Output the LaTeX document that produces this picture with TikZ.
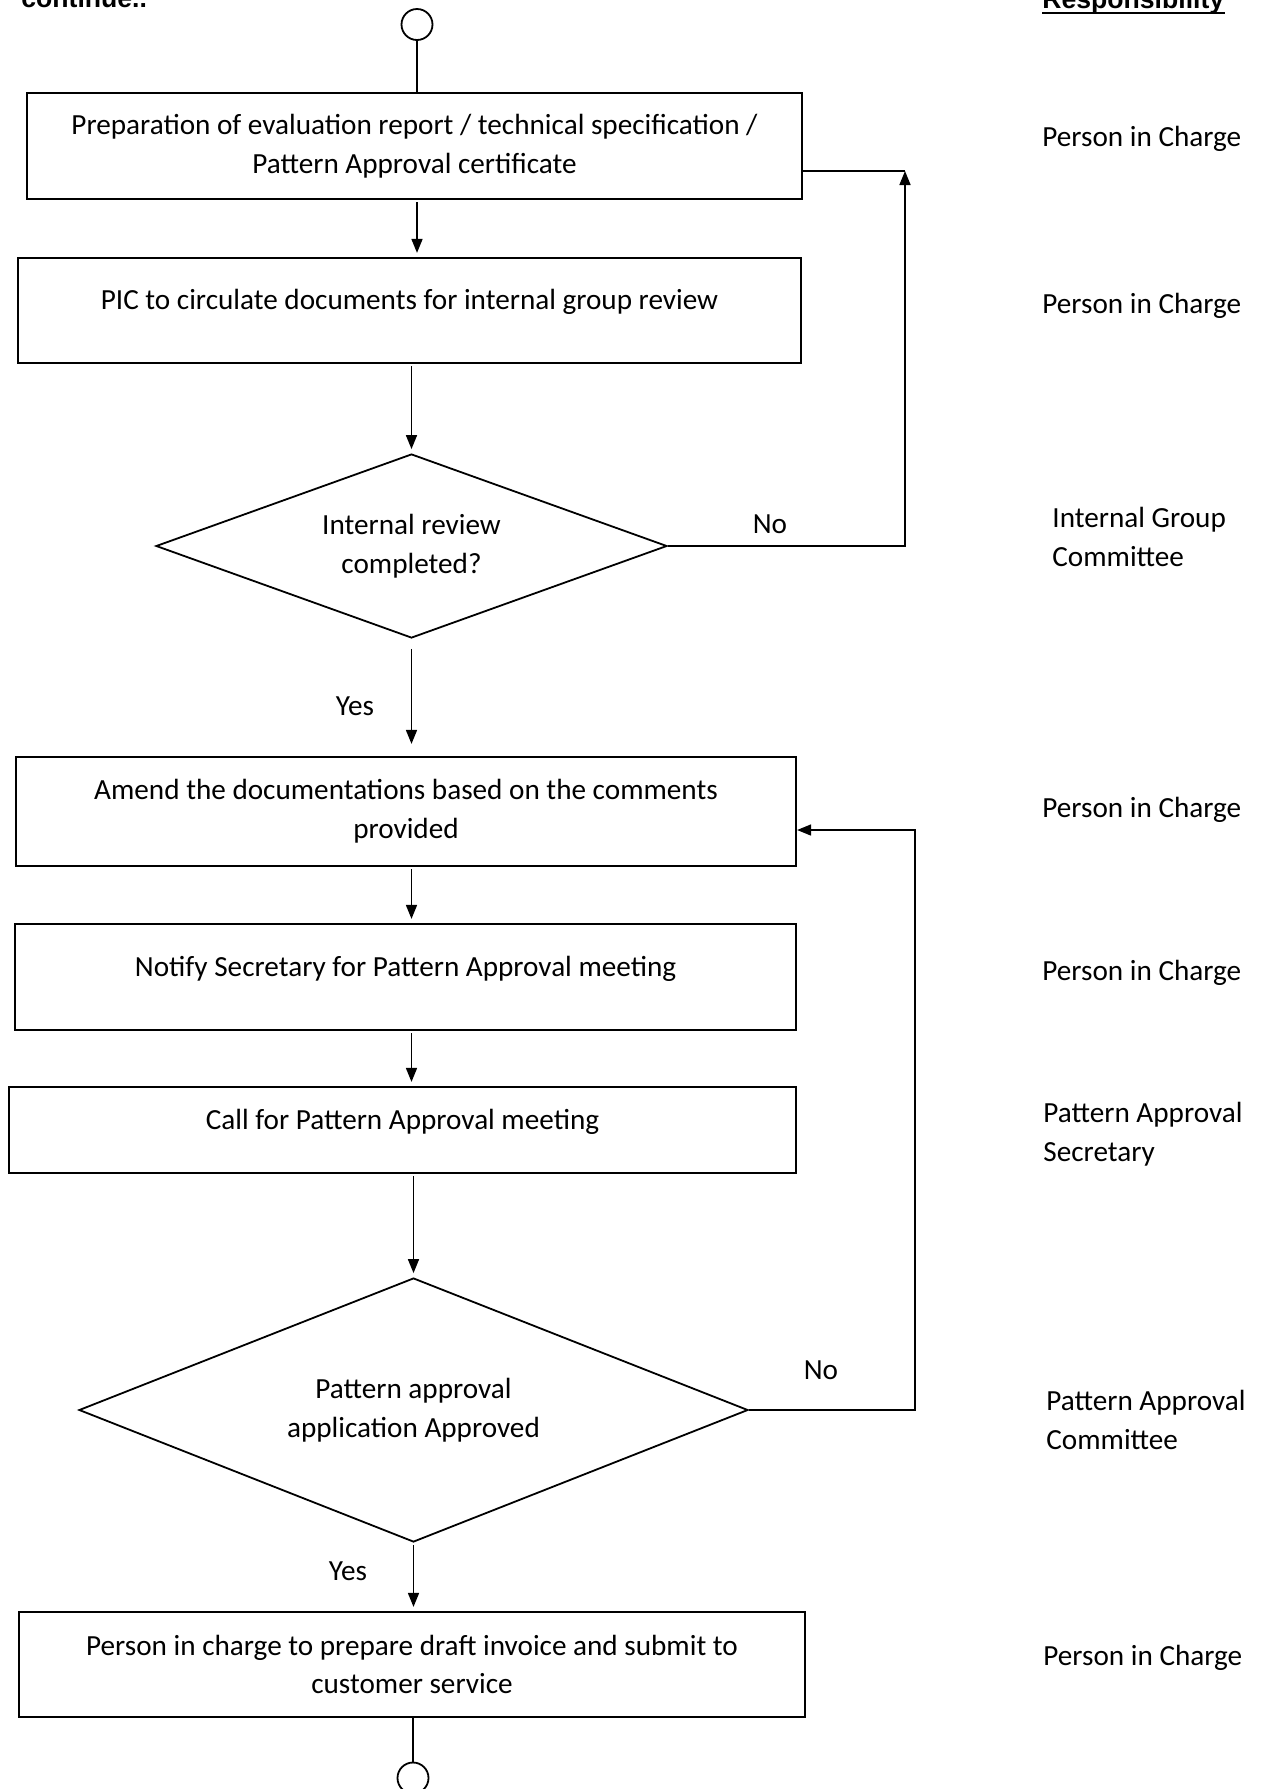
\documentclass[tikz,border=0pt]{standalone}
\usepackage{fontspec}
\setmainfont{Carlito}
\newfontfamily\headfont{Liberation Sans}
\usetikzlibrary{arrows.meta,positioning,shapes.geometric}

\begin{document}
\begin{tikzpicture}[
  x=0.5pt, y=-0.5pt,
  font=\fontsize{14.6}{19.4}\selectfont,
  >={Triangle[length=7pt,width=5.5pt]},
  stepbox/.style={draw, line width=1.1pt, align=center, inner sep=0pt},
  onebox/.style={stepbox, text height=11pt, text depth=12pt},
  decision/.style={draw, diamond, shape aspect=2.6, line width=0.9pt, align=center, inner sep=0pt},
  term/.style={draw, circle, line width=0.9pt, minimum size=15.5pt, inner sep=0pt},
  who/.style={anchor=west, align=left, inner sep=0pt},
  head/.style={font=\headfont\bfseries\fontsize{13.3}{16}\selectfont, inner sep=0pt, anchor=base west},
  link/.style={line width=0.8pt},
  arr/.style={link, ->},
  flow/.style={arr, shorten <=1pt, shorten >=2pt}
]
\useasboundingbox (0,0) rectangle (1264,1789);

% heading (cut at the top of the page)
\node[head] (cont) at (21,7) {continue..};
\node[head] (resp) at (1042,8) {Responsibility};
\draw[line width=1pt] ([yshift=-2.5pt]resp.base west) -- ([yshift=-2.5pt]resp.base east);

% flow
\node[term] (st) at (417,24.5) {};
\node[stepbox, minimum width=387.5pt, minimum height=53pt] (b1) at (414.5,146)
  {Preparation of evaluation report / technical specification /\\ Pattern Approval certificate};
\node[onebox, minimum width=391.5pt, minimum height=52.5pt] (b2) at (409.5,310.5)
  {PIC to circulate documents for internal group review};
\node[decision, minimum width=255.5pt, minimum height=92pt] (d1) at (411.5,546)
  {Internal review\\ completed?};
\node[stepbox, minimum width=390pt, minimum height=54.5pt] (b3) at (406,811.5)
  {Amend the documentations based on the comments\\ provided};
\node[onebox, minimum width=390.5pt, minimum height=53pt] (b4) at (405.5,977)
  {Notify Secretary for Pattern Approval meeting};
\node[onebox, minimum width=393.5pt, minimum height=43pt] (b5) at (402.5,1130)
  {Call for Pattern Approval meeting};
\node[decision, minimum width=334.5pt, minimum height=132pt] (d2) at (413.5,1410)
  {Pattern approval\\ application Approved};
\node[stepbox, minimum width=393pt, minimum height=52.5pt] (b6) at (412,1664.5)
  {Person in charge to prepare draft invoice and submit to\\ customer service};
\node[term] (en) at (413,1778) {};

% branch labels
\node (no1) at (770,524) {No};
\node (yes1) at (355,706) {Yes};
\node (no2) at (821,1370) {No};
\node (yes2) at (348,1571) {Yes};

% responsibility column
\node[who] (r1) at (1042,139) {Person in Charge};
\node[who] (r2) at (1042,306) {Person in Charge};
\node[who] (r3) at (1052,537) {Internal Group\\Committee};
\node[who] (r4) at (1042,810) {Person in Charge};
\node[who] (r5) at (1042,973) {Person in Charge};
\node[who] (r6) at (1043,1134) {Pattern Approval\\Secretary};
\node[who] (r7) at (1046,1420) {Pattern Approval\\Committee};
\node[who] (r8) at (1043,1658) {Person in Charge};

% connectors
\draw[link] (st) -- (b1.north -| st);
\draw[flow] (b1.south -| st) -- (b2.north -| st);
\draw[flow] (b2.south -| d1.north) -- (d1.north);
\draw[flow, shorten <=5pt, shorten >=6pt] (d1.south) -- (b3.north -| d1.south);
\draw[flow] (b3.south -| d1.south) -- (b4.north -| d1.south);
\draw[flow] (b4.south -| d1.south) -- (b5.north -| d1.south);
\draw[flow] (b5.south -| d2.north) -- (d2.north);
\draw[flow] (d2.south) -- (b6.north -| d2.south);
\draw[link] (b6.south -| en) -- (en);

% loops back
\coordinate (k1) at (905,171);
\draw[arr] (d1.east) -| (k1);
\draw[link] (k1) -- (b1.east |- k1);
\coordinate (k2) at (915,830);
\draw[arr] (d2.east) -| (k2) -- (b3.east |- k2);

\end{tikzpicture}
\end{document}
